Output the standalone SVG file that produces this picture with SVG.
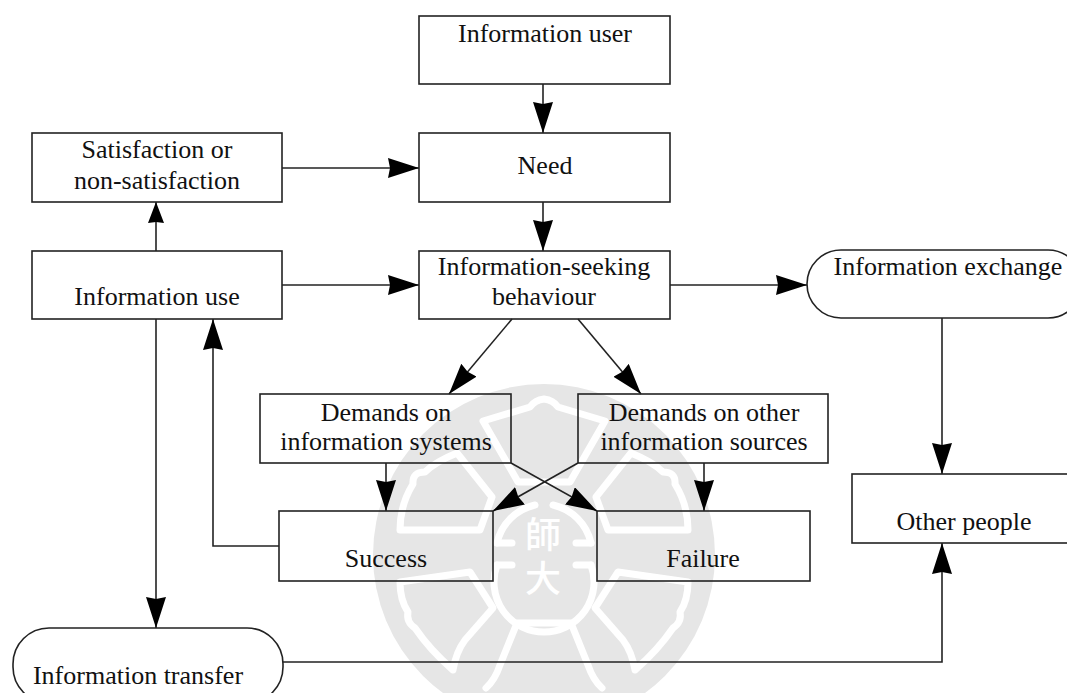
<svg xmlns="http://www.w3.org/2000/svg" width="1067" height="693" viewBox="0 0 1067 693">
<style>
.n{fill:none;stroke:#222;stroke-width:1.6}
.t{font-family:"Liberation Serif","Times New Roman",serif;font-size:26px;fill:#111;text-anchor:middle}
.c{fill:none;stroke:#222;stroke-width:1.6}
.w{fill:none;stroke:#fff;stroke-width:7;stroke-linejoin:round;stroke-linecap:round}
.wt{font-family:"Noto Sans CJK TC",sans-serif;font-size:36px;font-weight:500;fill:#fff;text-anchor:middle}
</style>
<defs>
<marker id="a" markerUnits="userSpaceOnUse" markerWidth="34" markerHeight="22" refX="31" refY="10" orient="auto">
<path d="M0 0L31 10L0 20L2 10Z" fill="#000"/>
</marker>
<marker id="s" markerUnits="userSpaceOnUse" markerWidth="24" markerHeight="18" refX="21" refY="8" orient="auto">
<path d="M0 0L21 8L0 16L1 8Z" fill="#000"/>
</marker>
</defs>
<rect width="1067" height="693" fill="#fff"/>
<g id="watermark">
<circle cx="544" cy="555" r="171" fill="#e6e6e6"/>
<path class="w" d="M483 421Q510 413 530 407Q535 400 544 399Q553 400 558 407Q578 413 605 421L570 482H518Z"/>
<path class="w" d="M457 453Q435 462 425 472Q412 472 413 484Q400 505 400 530L480 530L492 497Z"/>
<path class="w" d="M631 453Q653 462 663 472Q676 472 675 484Q688 505 688 530L608 530L596 497Z"/>
<path class="w" d="M400 582L470 572L493 608L465 640Q456 652 453 670Q430 650 415 628Q406 622 408 612Q400 600 400 582Z"/>
<path class="w" d="M688 582L618 572L595 608L623 640Q632 652 635 670Q658 650 673 628Q682 622 680 612Q688 600 688 582Z"/>
<path class="w" d="M486 688Q495 680 500 665L517 623H571L588 665Q593 680 602 688"/>
<path class="w" d="M497 543A50 50 0 0 1 535 505M553 505A50 50 0 0 1 591 543M591 565A50 50 0 1 1 497 565"/>
<path class="w" d="M497 543H512M576 543H591M497 565H512M576 565H591"/>
<text class="wt" x="543" y="548">師</text>
<text class="wt" x="543" y="592">大</text>
</g>
<g id="connectors">
<path class="c" marker-end="url(#a)" d="M543 84V133"/>
<path class="c" marker-end="url(#a)" d="M282 168H419"/>
<path class="c" marker-end="url(#a)" d="M543 202V251"/>
<path class="c" marker-end="url(#s)" d="M156 251V202"/>
<path class="c" marker-end="url(#a)" d="M282 285H419"/>
<path class="c" marker-end="url(#a)" d="M670 285H807"/>
<path class="c" marker-end="url(#a)" d="M512 319L449 394"/>
<path class="c" marker-end="url(#a)" d="M578 319L641 394"/>
<path class="c" marker-end="url(#a)" d="M386 463V511"/>
<path class="c" marker-end="url(#a)" d="M704 463V511"/>
<path class="c" marker-end="url(#a)" d="M511 463L597 511"/>
<path class="c" marker-end="url(#a)" d="M578 463L493 511"/>
<path class="c" marker-end="url(#a)" d="M279 546H213V319"/>
<path class="c" marker-end="url(#a)" d="M156 319V628"/>
<path class="c" marker-end="url(#a)" d="M942 318V474"/>
<path class="c" marker-end="url(#a)" d="M283 662H942V543"/>
</g>
<g id="information-user"><rect class="n" x="419" y="16" width="251" height="68"/><text class="t" x="545" y="42">Information user</text></g>
<g id="need"><rect class="n" x="419" y="133" width="251" height="69"/><text class="t" x="545" y="174">Need</text></g>
<g id="satisfaction"><rect class="n" x="32" y="133" width="250" height="69"/><text class="t" x="157" y="158">Satisfaction or</text><text class="t" x="157" y="189">non-satisfaction</text></g>
<g id="seeking"><rect class="n" x="419" y="251" width="251" height="68"/><text class="t" x="544" y="275">Information-seeking</text><text class="t" x="544" y="305">behaviour</text></g>
<g id="use"><rect class="n" x="32" y="251" width="250" height="68"/><text class="t" x="157" y="305">Information use</text></g>
<g id="exchange"><rect class="n" x="807" y="250" width="275" height="68" rx="34"/><text class="t" x="948" y="275">Information exchange</text></g>
<g id="demands-systems"><rect class="n" x="260" y="394" width="251" height="69"/><text class="t" x="386" y="421">Demands on</text><text class="t" x="386" y="450">information systems</text></g>
<g id="demands-sources"><rect class="n" x="578" y="394" width="250" height="69"/><text class="t" x="704" y="421">Demands on other</text><text class="t" x="704" y="450">information sources</text></g>
<g id="success"><rect class="n" x="279" y="511" width="214" height="70"/><text class="t" x="386" y="567">Success</text></g>
<g id="failure"><rect class="n" x="597" y="511" width="213" height="70"/><text class="t" x="703" y="567">Failure</text></g>
<g id="other-people"><rect class="n" x="852" y="474" width="220" height="69"/><text class="t" x="964" y="530">Other people</text></g>
<g id="transfer"><rect class="n" x="13" y="628" width="270" height="75" rx="36"/><text class="t" x="138" y="684">Information transfer</text></g>
</svg>
